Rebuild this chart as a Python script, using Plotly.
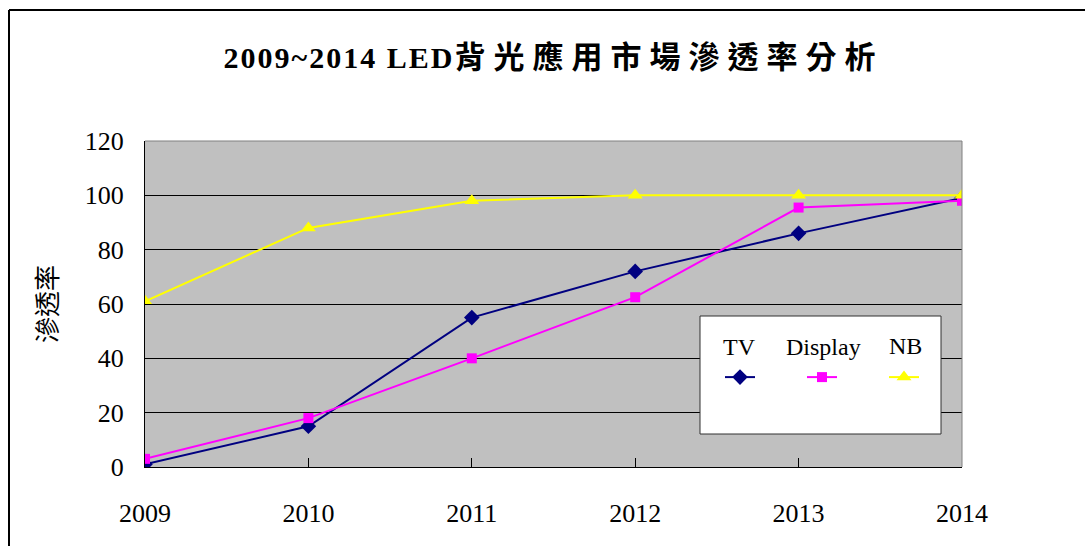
import plotly.graph_objects as go

years = [2009, 2010, 2011, 2012, 2013, 2014]
tv = [1, 15, 55, 72, 86, 99]
display = [3, 18, 40, 62.5, 95.5, 98]
nb = [61, 88, 98, 100, 100, 100]

series = [
    ("TV", tv, "#000080", "diamond", 12),
    ("Display", display, "#FF00FF", "square", 10),
    ("NB", nb, "#FFFF00", "triangle-up", 13),
]

# plot area in pixels: x 145..962, y 141..467
PX_L, PX_R, PX_T, PX_B = 145, 962, 141, 467


def px(x):
    return (x - PX_L) / (PX_R - PX_L)


def py(y):
    return (PX_B - y) / (PX_B - PX_T)


fig = go.Figure()
for name, vals, color, symbol, size in series:
    fig.add_trace(go.Scatter(
        x=years, y=vals, name=name, mode="lines+markers",
        line=dict(color=color, width=2),
        marker=dict(symbol=symbol, size=size, color=color),
    ))

serif = "Liberation Serif, Times New Roman, serif"

fig.update_layout(
    width=1085, height=546,
    margin=dict(l=PX_L, r=1085 - PX_R, t=PX_T, b=546 - PX_B),
    paper_bgcolor="white",
    plot_bgcolor="#C0C0C0",
    title=dict(
        text=("<span style=\"font-family:Liberation Serif;letter-spacing:2px\">2009~2014 LED</span>"
              "<span style=\"font-size:31px;letter-spacing:8px\">背光應用市場滲透率分析</span>"),
        x=0.5, xref="paper", xanchor="center",
        y=1 - 57 / 546, yanchor="middle",
        font=dict(family="Liberation Serif, Noto Sans CJK TC", size=30,
                  color="black", weight="bold"),
    ),
    showlegend=True,
    legend=dict(
        orientation="h",
        x=px(720), y=py(355), xanchor="left", yanchor="top",
        bgcolor="rgba(0,0,0,0)", borderwidth=0,
        entrywidth=37, itemwidth=30,
        font=dict(family=serif, size=24, color="rgba(0,0,0,0)"),
    ),
    xaxis=dict(
        range=[2009, 2014], tickvals=years, ticktext=[str(y) for y in years],
        showgrid=False, zeroline=False,
        showline=True, linecolor="black", linewidth=1,
        ticks="inside", ticklen=9, tickcolor="black",
        ticklabelstandoff=23,
        tickfont=dict(family=serif, size=26, color="black"),
    ),
    yaxis=dict(
        range=[0, 120], dtick=20,
        showgrid=True, gridcolor="black", gridwidth=1, zeroline=False,
        showline=True, linecolor="black", linewidth=1,
        ticks="inside", ticklen=9, tickcolor="black",
        ticklabelstandoff=15,
        tickfont=dict(family=serif, size=26, color="black"),
        title=dict(text="滲透率", standoff=19,
                   font=dict(family="Noto Sans CJK TC", size=26, color="black")),
    ),
)

# gray top/right border of plot area
fig.add_shape(type="line", xref="paper", yref="paper", x0=0, x1=1, y0=1, y1=1,
              line=dict(color="#808080", width=1))
fig.add_shape(type="line", xref="paper", yref="paper", x0=1, x1=1, y0=0, y1=1,
              line=dict(color="#808080", width=1))

# legend box
fig.add_shape(type="rect", xref="paper", yref="paper",
              x0=px(700), x1=px(941), y0=py(434), y1=py(316),
              fillcolor="white", line=dict(color="#303030", width=1), layer="above")

# legend labels above the samples
for label, xc, yc in [("TV", 739, 347), ("Display", 823, 347), ("NB", 905, 346)]:
    fig.add_annotation(text=label, xref="paper", yref="paper",
                       x=px(xc), y=py(yc), xanchor="center", yanchor="middle",
                       showarrow=False, font=dict(family=serif, size=24, color="black"))

# outer frame (top and left edges visible)
fig.add_shape(type="line", xref="paper", yref="paper",
              x0=px(9), x1=px(1090), y0=py(10), y1=py(10),
              line=dict(color="black", width=2))
fig.add_shape(type="line", xref="paper", yref="paper",
              x0=px(9), x1=px(9), y0=py(10), y1=py(560),
              line=dict(color="black", width=2))

# drop the default page margin so the figure sits at the window origin
fig.write_html("out.html", config={"displayModeBar": False},
               post_script="document.body.style.margin='0';")
